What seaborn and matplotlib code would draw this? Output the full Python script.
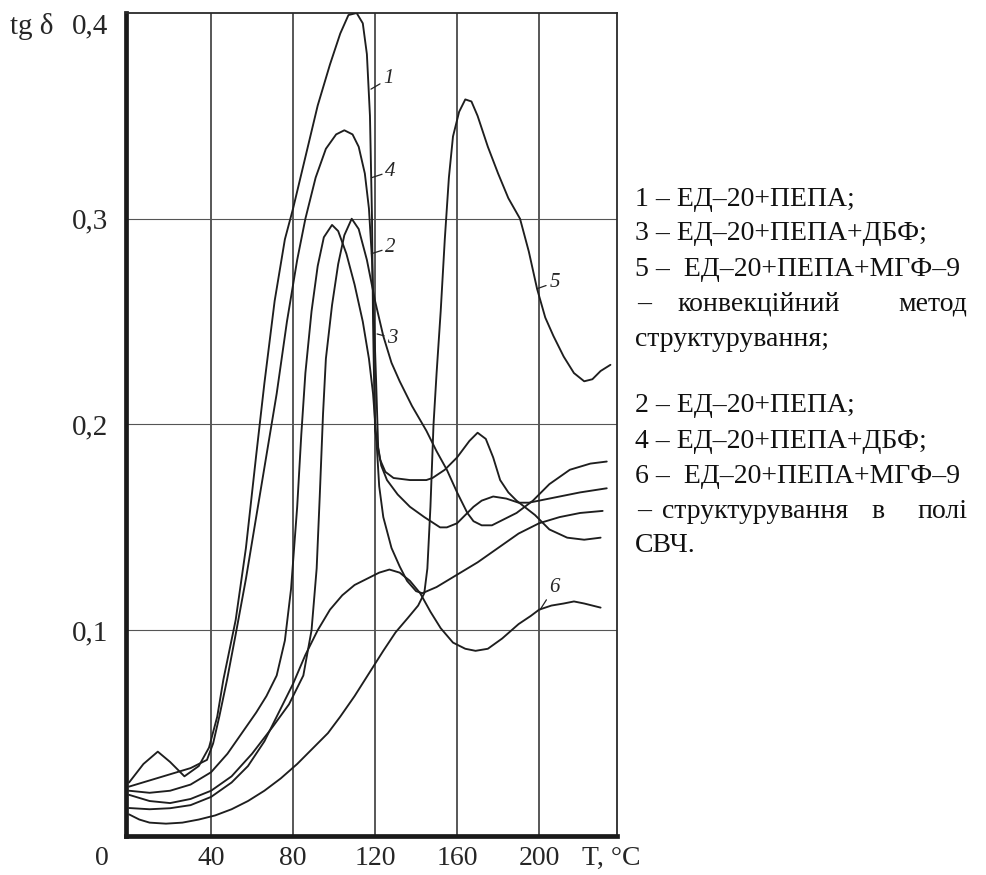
import pandas as pd
import matplotlib
matplotlib.use("Agg")
import matplotlib.pyplot as plt
import matplotlib.transforms as mtransforms
import seaborn as sns

# tg delta vs temperature, curves 1-6
t1 = [0, 7, 14, 20, 27, 34, 39, 43, 46, 52, 57, 62, 66, 71, 76, 80, 86, 92, 98, 103, 107, 111, 114, 116, 117.5,
      118.5, 119, 119.5, 120, 122.4, 125, 129, 137, 145, 148, 154, 160, 166, 170, 174, 177.6, 181, 185, 189,
      198, 205, 213.7, 222, 230]
y1 = [0.026, 0.035, 0.041, 0.036, 0.029, 0.034, 0.043, 0.058, 0.076, 0.105, 0.140, 0.185, 0.220, 0.260, 0.290,
      0.305, 0.330, 0.355, 0.375, 0.390, 0.399, 0.400, 0.395, 0.380, 0.350, 0.300, 0.250, 0.221, 0.197, 0.183,
      0.177, 0.174, 0.173, 0.173, 0.174, 0.178, 0.184, 0.192, 0.196, 0.193, 0.184, 0.173, 0.167, 0.163, 0.156,
      0.149, 0.145, 0.144, 0.145]

t2 = [0, 10, 20, 30, 40, 48, 55, 62, 67, 72, 76, 79, 82, 84, 86, 89, 92, 95, 99, 102, 106, 110, 114, 117, 119,
      120.5, 122, 124, 128, 132, 135.6, 140, 143, 150, 160, 170, 180, 190, 200, 210, 220, 231]
y2 = [0.022, 0.021, 0.022, 0.025, 0.031, 0.040, 0.050, 0.060, 0.068, 0.078, 0.095, 0.120, 0.160, 0.195, 0.225,
      0.255, 0.277, 0.291, 0.297, 0.294, 0.283, 0.268, 0.250, 0.232, 0.215, 0.195, 0.170, 0.155, 0.140, 0.131,
      0.124, 0.119, 0.118, 0.121, 0.127, 0.133, 0.140, 0.147, 0.152, 0.155, 0.157, 0.158]

t3 = [0, 10, 20, 30, 40, 50, 60, 70, 78, 85, 89, 91.5, 93, 94.6, 96, 99, 102, 105, 108.6, 112, 116, 120, 124,
      128, 132, 138, 145, 150, 155, 160, 165, 168, 172, 177, 181, 189, 197, 205, 215, 225, 233]
y3 = [0.020, 0.017, 0.016, 0.018, 0.022, 0.029, 0.040, 0.053, 0.064, 0.078, 0.100, 0.130, 0.165, 0.205, 0.232,
      0.258, 0.278, 0.292, 0.300, 0.295, 0.280, 0.260, 0.243, 0.230, 0.221, 0.209, 0.197, 0.187, 0.178, 0.167,
      0.157, 0.153, 0.151, 0.151, 0.153, 0.157, 0.163, 0.171, 0.178, 0.181, 0.182]

t4 = [0, 10, 20, 30, 38, 41, 44, 47.8, 52, 57, 62, 67, 72, 77, 82, 86, 91, 96, 101, 105, 109, 112, 115, 117,
      118.5, 119.5, 120.5, 121.5, 123, 125.8, 131, 137, 144, 151.7, 155, 160, 164, 168, 172, 177.6, 184, 190,
      195, 200, 210, 220, 233]
y4 = [0.024, 0.027, 0.030, 0.033, 0.037, 0.045, 0.058, 0.076, 0.098, 0.125, 0.155, 0.185, 0.215, 0.250, 0.280,
      0.300, 0.320, 0.334, 0.341, 0.343, 0.341, 0.335, 0.322, 0.305, 0.280, 0.250, 0.221, 0.189, 0.180, 0.173,
      0.166, 0.160, 0.155, 0.150, 0.150, 0.152, 0.156, 0.160, 0.163, 0.165, 0.164, 0.162, 0.162, 0.163, 0.165,
      0.167, 0.169]

t5 = [0, 5, 10, 18, 26, 34, 42, 50, 58, 66, 74, 82, 90, 97, 103, 110, 117, 124, 130, 136, 141, 144, 145.5, 147,
      148.5, 150, 152, 154, 156, 158, 161, 164, 167, 170, 175, 180, 185, 190.7, 195, 199, 203, 207, 212, 217,
      222, 226, 230, 234.8]
y5 = [0.0105, 0.008, 0.0065, 0.006, 0.0065, 0.008, 0.010, 0.013, 0.017, 0.022, 0.028, 0.035, 0.043, 0.050,
      0.058, 0.068, 0.079, 0.090, 0.099, 0.106, 0.112, 0.118, 0.130, 0.160, 0.200, 0.225, 0.255, 0.290, 0.320,
      0.340, 0.352, 0.358, 0.357, 0.350, 0.335, 0.322, 0.310, 0.300, 0.284, 0.266, 0.252, 0.243, 0.233, 0.225,
      0.221, 0.222, 0.226, 0.229]

t6 = [0, 10, 20, 30, 40, 50, 58, 66, 73, 80, 86, 92, 98, 104, 110, 116, 122, 127, 132, 137, 142, 147, 152, 158,
      164, 169, 175, 182, 190, 196, 200, 206, 212, 217, 222, 230]
y6 = [0.0136, 0.013, 0.0135, 0.015, 0.019, 0.026, 0.034, 0.046, 0.060, 0.074, 0.088, 0.100, 0.110, 0.117,
      0.122, 0.125, 0.128, 0.1295, 0.128, 0.124, 0.118, 0.109, 0.101, 0.094, 0.091, 0.090, 0.091, 0.096, 0.103,
      0.107, 0.110, 0.112, 0.113, 0.114, 0.113, 0.111]

curves = {"1": (t1, y1), "2": (t2, y2), "3": (t3, y3), "4": (t4, y4), "5": (t5, y5), "6": (t6, y6)}

grid_x = [40, 80, 120, 160, 200]
x_ticks = [0, 40, 80, 120, 160, 200, 235]
x_tick_labels = ["0", "40", "80", "120", "160", "200", "T, °C"]
y_ticks = [0.1, 0.2, 0.3, 0.4]
y_tick_labels = ["0,1", "0,2", "0,3", "0,4"]

legend_lines = ["1 – ЕД–20+ПЕПА;", "3 – ЕД–20+ПЕПА+ДБФ;", "5 –  ЕД–20+ПЕПА+МГФ–9"]
legend_lines2 = ["2 – ЕД–20+ПЕПА;", "4 – ЕД–20+ПЕПА+ДБФ;", "6 –  ЕД–20+ПЕПА+МГФ–9"]

rows = []
for name, (tt, yy) in curves.items():
    for a, b in zip(tt, yy):
        rows.append({"T": a, "tg": b, "curve": name})
df = pd.DataFrame(rows)

sns.set_style("white")
plt.rcParams["font.family"] = ["Liberation Serif", "DejaVu Serif"]

W, H = 987, 875
fig = plt.figure(figsize=(W / 100, H / 100), dpi=100)
ax = fig.add_axes([126 / W, (H - 836) / H, (617 - 126) / W, (836 - 13) / H])

for x in grid_x:
    ax.axvline(x, color="#2a2a2a", lw=1.1, zorder=1)
for y in y_ticks[:-1]:
    ax.axhline(y, color="#555555", lw=0.8, zorder=1)

sns.lineplot(data=df, x="T", y="tg", units="curve", estimator=None, sort=False,
             color="#1e1e1e", lw=1.35, ax=ax, zorder=3)

ax.set_xlim(-1.5, 238)
ax.set_ylim(0, 0.4)
ax.set_xlabel("")
ax.set_ylabel("")

ax.set_xticks(x_ticks)
ax.set_xticklabels(x_tick_labels, fontsize=20)
ax.set_yticks(y_ticks)
ax.set_yticklabels(y_tick_labels, fontsize=21)
ax.tick_params(axis="x", length=0, pad=7)
ax.tick_params(axis="y", length=0, pad=13)
ax.get_yticklabels()[-1].set_verticalalignment("top")

# the "0" sits left of the origin in the source figure
lab0 = ax.get_xticklabels()[0]
lab0.set_transform(lab0.get_transform() + mtransforms.ScaledTranslation(-0.27, 0, fig.dpi_scale_trans))

for side in ["left", "bottom"]:
    ax.spines[side].set_linewidth(3.4)
    ax.spines[side].set_color("#1a1a1a")
for side in ["top", "right"]:
    ax.spines[side].set_linewidth(1.3)
    ax.spines[side].set_color("#2a2a2a")

fig.text(10 / W, 1 - 27 / H, "tg δ", fontsize=21, ha="left", va="center")

# curve numbers with short leaders
num_labels = [("1", (118.0, 0.363), (124, 0.368)),
              ("4", (118.4, 0.320), (125, 0.323)),
              ("2", (118.2, 0.283), (125, 0.286)),
              ("3", (121.0, 0.244), (126, 0.242)),
              ("5", (199.0, 0.266), (205, 0.269)),
              ("6", (200.5, 0.110), (205, 0.121))]
for txt, xy, xyt in num_labels:
    ax.annotate(txt, xy=xy, xytext=xyt, fontsize=15, style="italic", ha="left", va="center",
                arrowprops=dict(arrowstyle="-", lw=0.9, color="#222222", shrinkA=0, shrinkB=0),
                zorder=4)

# legend block on the right
fs = 20
def ftext(x, y, s, **kw):
    fig.text(x / W, 1 - y / H, s, fontsize=fs, va="center", color="#111111", **kw)

for i, s in enumerate(legend_lines):
    ftext(635, 199 + 35 * i, s)
ftext(637, 304, "–")
ftext(677, 304, "конвекційний")
ftext(967, 304, "метод", ha="right")
ftext(635, 339, "структурування;")
for i, s in enumerate(legend_lines2):
    ftext(635, 406 + 35 * i, s)
ftext(637, 511, "–")
ftext(662, 511, "структурування")
ftext(878, 511, "в", ha="center")
ftext(968, 511, "полі", ha="right")
ftext(635, 546, "СВЧ.")

fig.savefig("out.png", dpi=100, facecolor="white")
